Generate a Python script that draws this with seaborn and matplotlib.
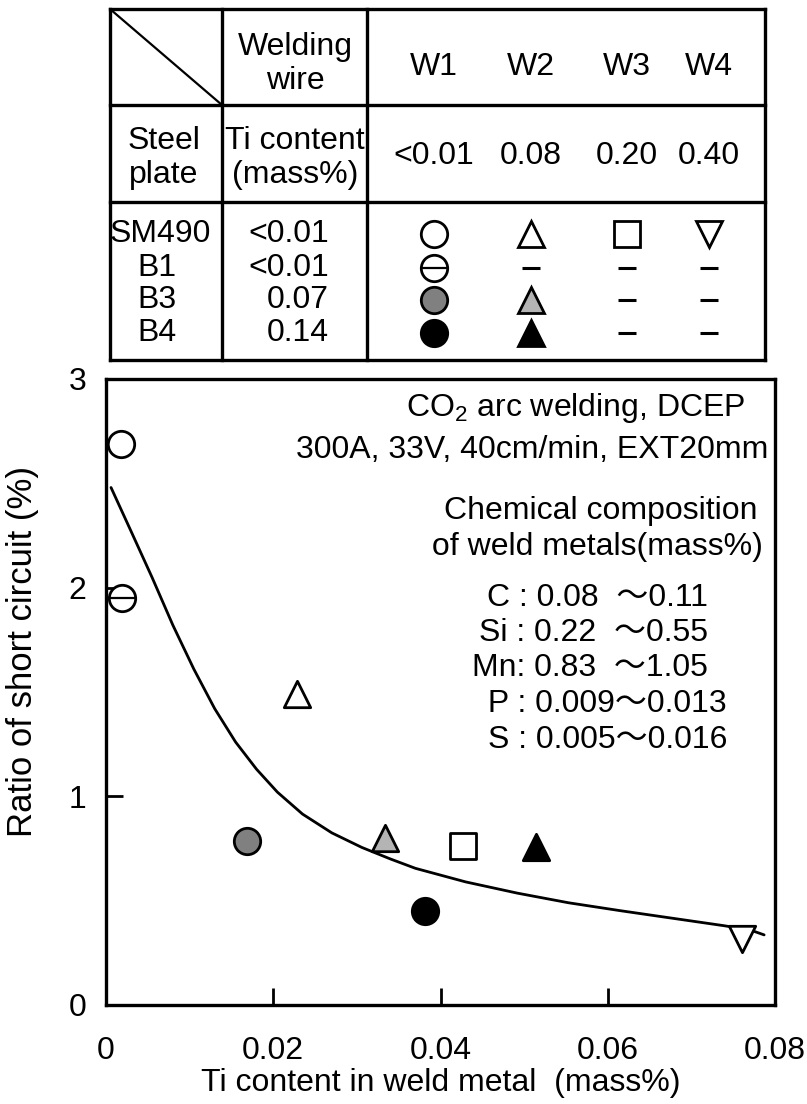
import matplotlib
matplotlib.use("Agg")
import matplotlib.pyplot as plt
import seaborn as sns
import pandas as pd
import numpy as np

# ---------------- data ----------------
wires = ["W1", "W2", "W3", "W4"]
wire_ti = ["<0.01", "0.08", "0.20", "0.40"]
plates = ["SM490", "B1", "B3", "B4"]
plate_ti = ["<0.01", "<0.01", "0.07", "0.14"]

# measured points (Ti in weld metal, ratio of short circuit)
pt_label = ["SM490-W1", "B1-W1", "SM490-W2", "B3-W1", "B3-W2", "SM490-W3", "B4-W2", "B4-W1", "SM490-W4"]
pt_x = [0.0018, 0.0019, 0.0228, 0.0169, 0.0334, 0.0427, 0.0514, 0.0382, 0.0761]
pt_y = [2.69, 1.95, 1.49, 0.785, 0.80, 0.76, 0.755, 0.45, 0.315]

# fitted curve
curve_x = [0.0006, 0.0030, 0.0055, 0.0080, 0.0105, 0.0130, 0.0155, 0.0180, 0.0205,
           0.0235, 0.0270, 0.0306, 0.0340, 0.0370, 0.0430, 0.0492, 0.0553, 0.0615,
           0.0677, 0.0739, 0.0770, 0.0787]
curve_y = [2.48, 2.27, 2.05, 1.82, 1.61, 1.42, 1.26, 1.13, 1.02,
           0.915, 0.825, 0.755, 0.70, 0.655, 0.59, 0.536, 0.49, 0.452,
           0.416, 0.38, 0.36, 0.336]

x_ticks = [0, 0.02, 0.04, 0.06, 0.08]
x_ticklabels = ["0", "0.02", "0.04", "0.06", "0.08"]
y_ticks = [0, 1, 2, 3]

notes = ["CO$_2$ arc welding, DCEP", "300A, 33V, 40cm/min, EXT20mm",
         "Chemical composition", " of weld metals(mass%)"]
comp = ["C : 0.08  \uff5e0.11", "Si : 0.22  \uff5e0.55", "Mn: 0.83  \uff5e1.05",
        " P : 0.009\uff5e0.013", "S : 0.005\uff5e0.016"]

# ---------------- styles ----------------
GRAY = "#808080"
LGRAY = "#b4b4b4"
style = {  # marker, facecolor, theta-bar
    "SM490-W1": ("o", "white", False),
    "B1-W1": ("o", "white", True),
    "B3-W1": ("o", GRAY, False),
    "B4-W1": ("o", "black", False),
    "SM490-W2": ("^", "white", False),
    "B3-W2": ("^", LGRAY, False),
    "B4-W2": ("^", "black", False),
    "SM490-W3": ("s", "white", False),
    "SM490-W4": ("v", "white", False),
}

sns.set_theme(style="white")
plt.rcParams["font.family"] = ["Liberation Sans", "Noto Sans CJK JP", "DejaVu Sans"]
plt.rcParams["mathtext.fontset"] = "custom"
plt.rcParams["mathtext.rm"] = "Liberation Sans"
plt.rcParams["text.color"] = "black"
plt.rcParams["axes.labelcolor"] = "black"
plt.rcParams["xtick.color"] = "black"
plt.rcParams["ytick.color"] = "black"

W, H = 807, 1104
fig = plt.figure(figsize=(W / 100, H / 100), dpi=100)
fig.patch.set_facecolor("white")

LW = 2.4
FS = 23
MS = 19

# ---------------- main axes ----------------
L, R, T, B = 106, 775, 379, 1005
ax = fig.add_axes([L / W, 1 - B / H, (R - L) / W, (B - T) / H])
ax.set_facecolor("white")

# overlay axes in pixel coordinates for the table and notes
axt = fig.add_axes([0, 0, 1, 1])
axt.set_xlim(0, W)
axt.set_ylim(H, 0)
axt.axis("off")
axt.patch.set_alpha(0)
axt.set_zorder(10)

# table lines
tl, tr, tt, tb = 110, 765, 9, 360
for y in (tt, 105, 202, tb):
    axt.plot([tl, tr], [y, y], color="black", lw=LW, solid_capstyle="projecting")
for x in (tl, 222, 367, tr):
    axt.plot([x, x], [tt, tb], color="black", lw=LW, solid_capstyle="projecting")
axt.plot([tl, 222], [tt, 105], color="black", lw=1.6)

axt.text(295, 64, "Welding\nwire", ha="center", va="center", fontsize=FS, linespacing=1.15)
axt.text(164, 158, "Steel\nplate", ha="center", va="center", fontsize=FS, linespacing=1.15)
axt.text(295, 158, "Ti content\n(mass%)", ha="center", va="center", fontsize=FS, linespacing=1.15)

col_x = [434, 531, 627, 709]
for cx, w, t in zip(col_x, wires, wire_ti):
    axt.text(cx, 67, w, ha="center", va="center", fontsize=FS)
    axt.text(cx, 156, t, ha="center", va="center", fontsize=FS)

row_y = [234, 268, 300, 333]
row_lx = [110, 137, 137, 137]
for ry, lx, p, t in zip(row_y, row_lx, plates, plate_ti):
    axt.text(lx, ry, p, ha="left", va="center", fontsize=FS)
    axt.text(329, ry, t, ha="right", va="center", fontsize=FS)

# table symbols
for lab in pt_label:
    plate, wire = lab.split("-")
    r = plates.index(plate)
    c = wires.index(wire)
    mk, fc, bar = style[lab]
    axt.plot(col_x[c], row_y[r], marker=mk, ms=MS, mfc=fc, mec="black", mew=2.0, ls="none")
    if bar:
        axt.plot(col_x[c], row_y[r], marker="_", ms=MS, mew=1.6, color="black", ls="none")
present = {tuple(l.split("-")) for l in pt_label}
for r, p in enumerate(plates):
    for c, w in enumerate(wires):
        if (p, w) not in present:
            axt.plot(col_x[c], row_y[r], marker="_", ms=13, mew=2.2, color="black", ls="none")

# ---------------- plot ----------------
cdf = pd.DataFrame({"x": curve_x, "y": curve_y})
sns.lineplot(data=cdf, x="x", y="y", ax=ax, color="black", lw=2.0, sort=True, estimator=None)

pdf = pd.DataFrame({"label": pt_label, "x": pt_x, "y": pt_y})
for _, row in pdf.iterrows():
    mk, fc, bar = style[row["label"]]
    sns.scatterplot(x=[row["x"]], y=[row["y"]], ax=ax, marker=mk, s=MS ** 2,
                    facecolor=fc, edgecolor="black", linewidth=2.0, zorder=5)
    if bar:
        ax.plot(row["x"], row["y"], marker="_", ms=MS, mew=1.6, color="black", zorder=6)

ax.set_xlim(0, 0.08)
ax.set_ylim(0, 3)
ax.set_xticks(x_ticks)
ax.set_xticklabels(x_ticklabels)
ax.set_yticks(y_ticks)
for s in ax.spines.values():
    s.set_visible(True)
    s.set_linewidth(LW)
    s.set_color("black")
ax.tick_params(axis="both", direction="in", length=12, width=2, colors="black",
               labelsize=23, bottom=True, left=True)
ax.tick_params(axis="x", pad=22)
ax.tick_params(axis="y", pad=14)
ax.set_xlabel("Ti content in weld metal  (mass%)", fontsize=23)
ax.set_ylabel("Ratio of short circuit (%)", fontsize=25)
ax.xaxis.set_label_coords(0.5, -0.10)
ax.yaxis.set_label_coords(-0.10, 0.565)

# annotations (pixel positions)
note_pos = [(745, 408), (768, 450), (758, 511), (763, 547)]
for (x, y), t in zip(note_pos, notes):
    axt.text(x, y, t, ha="right", va="center", fontsize=FS)
comp_pos = [(708, 598), (708, 633), (708, 668), (727, 704), (727, 740)]
for (x, y), t in zip(comp_pos, comp):
    axt.text(x, y, t, ha="right", va="center", fontsize=FS)

fig.savefig("out.png", dpi=100, facecolor="white")
